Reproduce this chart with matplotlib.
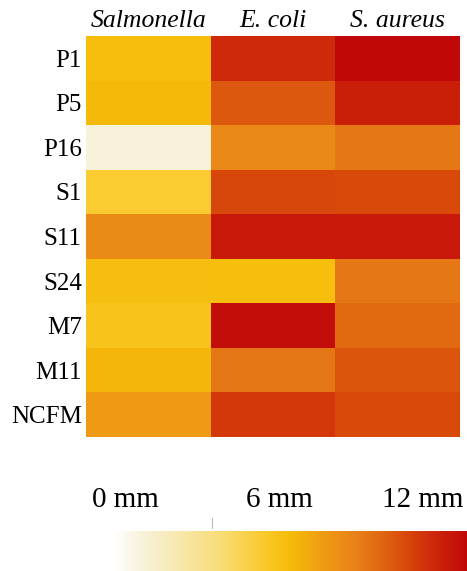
import numpy as np
import matplotlib
matplotlib.use('Agg')
import matplotlib.pyplot as plt
from matplotlib.colors import LinearSegmentedColormap, Normalize
from matplotlib.cm import ScalarMappable
from matplotlib.lines import Line2D

plt.rcParams['font.family'] = ['Liberation Serif', 'DejaVu Serif']

strains = ['P1', 'P5', 'P16', 'S1', 'S11', 'S24', 'M7', 'M11', 'NCFM']
pathogens = ['Salmonella', 'E. coli', 'S. aureus']
salmonella = [5.9, 6.1, 1.0, 5.0, 7.8, 5.8, 5.5, 6.2, 7.2]
ecoli      = [10.8, 9.5, 7.9, 10.0, 11.4, 5.9, 11.8, 8.6, 10.4]
saureus    = [12.0, 11.2, 8.5, 9.9, 11.4, 8.5, 9.0, 9.6, 9.9]
scale_labels = ['0 mm', '6 mm', '12 mm']

nodes = [(0.0, '#FFFFFF'), (0.08, '#F7F2DA'), (0.3, '#F8DC78'), (0.42, '#FACB2E'),
         (0.5, '#F5BC08'), (0.6, '#EE9A14'), (0.68, '#E98318'), (0.75, '#E06A12'),
         (0.83, '#D8480A'), (0.9, '#CE2A0A'), (1.0, '#C00808')]
cmap = LinearSegmentedColormap.from_list('zone', nodes)
norm = Normalize(0, 12)

W, H = 467, 571
fig = plt.figure(figsize=(W/100, H/100), dpi=100)

def box(l, t, r, b):
	return [l/W, 1-b/H, (r-l)/W, (b-t)/H]

ax = fig.add_axes(box(86, 36, 460, 437))
data = np.array([salmonella, ecoli, saureus]).T
ax.pcolormesh(data, cmap=cmap, norm=norm)
ax.set_ylim(len(strains), 0)
ax.set_xlim(0, len(pathogens))
for s in ax.spines.values():
	s.set_visible(False)
ax.xaxis.tick_top()
ax.set_xticks(np.arange(len(pathogens))+0.5)
ax.set_xticklabels(pathogens, fontsize=18.5, style='italic')
ax.set_yticks(np.arange(len(strains))+0.5)
ax.set_yticklabels(strains, fontsize=18)
ax.tick_params(length=0, pad=3)

cax = fig.add_axes(box(113, 531, 467, 571))
cb = fig.colorbar(ScalarMappable(norm=norm, cmap=cmap), cax=cax, orientation='horizontal')
cb.outline.set_visible(False)
cb.set_ticks([])

for lab, px in zip(scale_labels, [125, 279, 423]):
	fig.text(px/W, 1-500/H, lab, ha='center', va='center', fontsize=21)

fig.add_artist(Line2D([212/W, 212/W], [1-518/H, 1-528/H], color='#BBBBBB', lw=0.8))

plt.savefig('out.png', dpi=100)
